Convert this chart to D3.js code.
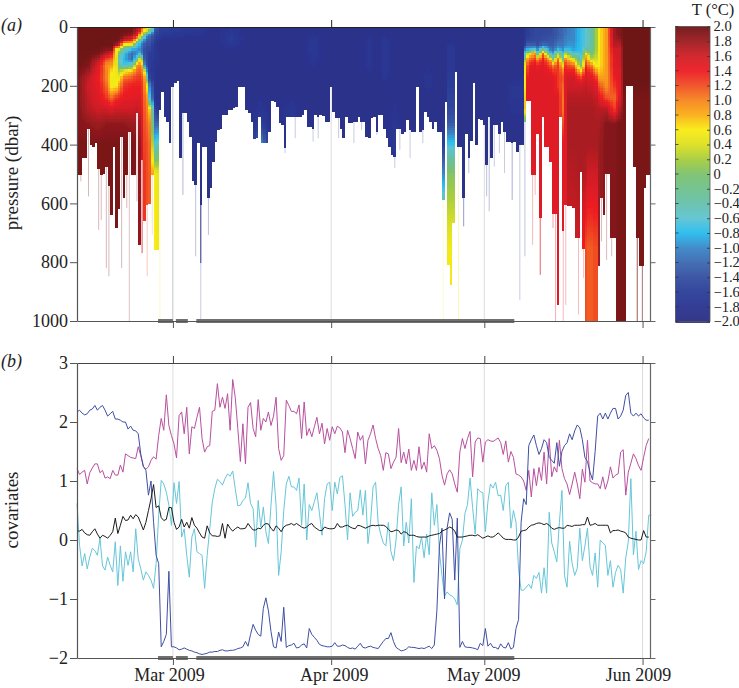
<!DOCTYPE html>
<html><head><meta charset="utf-8">
<script src="https://cdn.jsdelivr.net/npm/d3@7"></script>
<style>html,body{margin:0;padding:0;background:#fff}svg{display:block}text{font-family:"Liberation Serif",serif;fill:#222}</style>
</head><body><script>
const monthTicks=["2009-03-01","2009-04-01","2009-05-01","2009-06-01"];
const monthLabels=["Mar 2009","Apr 2009","May 2009","Jun 2009"];
const pressureTicks=[0,200,400,600,800,1000];
const covariateTicks=[3,2,1,0,-1,-2];
const colorbarTicks=[2,1.8,1.6,1.4,1.2,1,0.8,0.6,0.4,0.2,0,-0.2,-0.4,-0.6,-0.8,-1,-1.2,-1.4,-1.6,-1.8,-2];
const colorStops=[2,1.8,1.6,1.4,1.2,1,0.8,0.6,0.4,0.2,0,-0.2,-0.4,-0.6,-0.8,-1,-1.2,-1.4,-1.6,-1.8,-2];
const colorValues=["#6e1216","#9c1c20","#d01f26","#ed1c24","#f04e23","#f6851f","#fbae17","#f9ec13","#dde021","#a7cd3c","#7cc16e","#6fc18c","#66c0ab","#5fc4d2","#27bcee","#3a87c8","#3c69b1","#354fa1","#2b3e98","#2a3490","#2b2e83"];
const gapStarts=["2009-02-26T02:00Z","2009-03-01T14:00Z","2009-03-05T14:00Z"];
const gapEnds=["2009-03-01T00:00Z","2009-03-03T22:00Z","2009-05-06T21:00Z"];

// one sample every twelve hours
const maxDepth=[503,503,446,446,344,401,407,395,480,503,497,475,542,639,407,684,616,373,582,503,356,503,503,293,741,452,656,605,602,503,758,758,282,222,305,322,395,203,191,182,446,293,293,322,373,520,537,395,605,407,407,582,548,458,390,350,344,299,297,282,282,276,271,200,200,203,282,293,322,381,378,305,395,395,395,356,248,254,271,327,333,412,305,305,305,305,305,305,299,282,339,339,344,299,305,299,302,322,322,203,288,310,310,344,378,305,327,327,324,322,305,322,322,373,376,310,305,356,299,299,344,378,407,435,441,344,344,361,356,316,350,356,356,203,356,350,288,305,322,344,324,356,356,588,254,809,877,667,154,407,407,582,361,446,384,191,401,313,316,333,469,305,446,333,333,361,322,356,390,390,395,390,424,401,401,322,251,251,503,503,361,650,305,407,407,458,633,633,945,305,695,605,610,610,614,718,718,492,752,1000,1000,1000,1000,1000,814,582,639,501,501,718,718,1000,1000,1000,1000,199,199,199,475,718,814,814,548,503,503];
const streakSamples=[1,4,8,9,11,12,17,19,20,23,25,27,29,32,37,41,46,48,48,51,81,85,92,94,102,108,111,117,124,126,130,135,143,149,151,153,160,161,163,165,167,170,173,175,178,179,181,186,187,190,191,196,198,205,207,209,219,221];
const streakDepths=[525,576,690,656,820,848,820,616,1000,593,769,848,707,1000,1000,571,780,803,1000,707,429,378,390,378,378,395,350,367,480,418,446,395,1000,1000,678,497,576,627,475,429,497,588,928,780,741,571,843,684,1000,1000,945,978,854,729,792,780,1000,1000];
const streakAlphas=[.3,.3,.3,.3,.3,.3,.3,.3,.25,.3,.75,.3,.3,.25,.12,.35,.3,.9,.25,.3,.25,.25,.25,.25,.25,.25,.25,.25,.25,.25,.25,.25,.2,.3,.5,.3,.3,.3,.25,.25,.25,.4,.25,.3,.3,.3,.7,.4,.35,.3,.3,.3,.3,.3,.3,.3,.7,.5];

// temperature profiles: a short row keeps its last value to the deepest level
const depthLevels=[0,15,30,45,60,75,90,110,130,150,175,200,240,280,330,400,500,750,1000];
const profileSamples=[0,4,8,11,13,15,16,18,21,23,24,25,26,27,28,30,31,32,34,40,48,53,60,66,72,76,84,88,92,97,110,114,117,120,124,128,134,137,140,142,143,144,145,147,148,149,150,167,170,174,175,176,177,179,180,182,185,186,188,190,191,192,194,197,199,200,201,202,203,204,207,210,212,214,224];
const profileTemps=[
[2,2,2,2,2,2,2,2,2,1.95,1.9,1.9,1.9,1.9,1.9,1.95],
[2,2,2,2,2,2,2,1.95,1.9,1.8,1.65,1.6,1.65,1.7,1.85,1.95],
[2,2,2,2,2,2,1.95,1.7,1.5,1.45,1.4,1.45,1.5,1.6,1.8,1.95],
[2,2,2,2,2,1.9,1.7,1.2,.95,1,1,1.1,1.3,1.6,1.85,1.95],
[2,2,2,2,2,1.9,1.5,1.1,.9,.65,.55,.55,1.1,1.55,1.85,1.95],
[2,2,2,2,1.8,.6,.5,.4,.45,.5,.55,.6,1.3,1.6,1.85,1.95],
[2,2,2,1.95,1.6,.5,-.2,-.5,-.3,.2,.55,.9,1.35,1.6,1.85,1.95],
[2,2,1.9,1.6,.6,-.3,-.7,-.8,-.7,.5,1.1,1.3,1.45,1.6,1.85,1.95],
[2,1.95,1.8,1.3,.5,-.8,-1.2,-1.2,-.4,.8,1.2,1.4,1.45,1.6,1.8,1.95],
[1.8,1.7,1.4,.55,-.6,-.9,-1,-.3,.9,1.1,1.3,1.4,1.5,1.65,1.8,1.9],
[1.7,1.5,.7,-.2,-.8,-1,-.8,.5,1,1.15,1.3,1.4,1.5,1.6,1.75,1.85],
[1.3,.9,.4,-.7,-1.1,-1.2,-1.1,.2,.8,1,1.2,1.3,1.35,1.4,1.5,1.6],
[.9,.5,-.4,-1,-1.3,-1.4,-1.4,-1.3,-1,.45,.9,1,1.1,1.15,1.2,1.25,1.3],
[.6,.3,-1,-1.3,-1.4,-1.5,-1.5,-1.5,-1.4,-1,-.3,.55,.9,1,1.1,1.2],
[.5,-.2,-1.2,-1.3,-1.4,-1.5,-1.6,-1.6,-1.6,-1.6,-1.5,-1,-.7,.7,1,1.1,1.15],
[-1.2,-1.4,-1.5,-1.6,-1.7,-1.7,-1.7,-1.75,-1.8,-1.8,-1.8,-1.8,-1.8,-1.5,-1.2,-.6,.55,.6],
[-1.3,-1.5,-1.6,-1.7,-1.8,-1.8,-1.8,-1.8,-1.8,-1.85,-1.85,-1.85,-1.85,-1.7,-1.2,-.5,.5,.55],
[-1.6,-1.6,-1.7,-1.8,-1.85,-1.85,-1.9,-1.9,-1.9,-1.9,-1.9,-1.9,-1.9,-1.9,-1.9,-1,.5,.55],
[-1.6,-1.65,-1.7,-1.85,-1.9],
[-1.65,-1.7,-1.75,-1.9],
[-1.75,-1.75,-1.8,-1.9],
[-1.9],
[-1.85,-1.7,-1.65,-1.65,-1.7,-1.85,-1.9],
[-1.9],
[-1.9,-1.9,-1.9,-1.9,-1.9,-1.9,-1.9,-1.9,-1.9,-1.9,-1.9,-1.9,-1.85,-1.75,-1.6,-1,-1.9],
[-1.9],
[-1.9,-1.9,-1.9,-1.9,-1.9,-1.9,-1.9,-1.9,-1.9,-1.9,-1.9,-1.9,-1.85,-1.75,-1.75,-1.9],
[-1.9],
[-1.9,-1.9,-1.8,-1.7,-1.7,-1.7,-1.7,-1.75,-1.8,-1.85,-1.9],
[-1.9],
[-1.9],
[-1.9,-1.9,-1.85,-1.75,-1.75,-1.75,-1.75,-1.75,-1.75,-1.8,-1.9],
[-1.9],
[-1.9,-1.9,-1.85,-1.7,-1.7,-1.7,-1.7,-1.7,-1.7,-1.7,-1.75,-1.9],
[-1.9,-1.9,-1.9,-1.9,-1.9,-1.9,-1.9,-1.9,-1.9,-1.9,-1.9,-1.9,-1.85,-1.8,-1.75,-1.7,-1.9],
[-1.9],
[-1.9],
[-1.9,-1.9,-1.9,-1.9,-1.9,-1.9,-1.9,-1.9,-1.85,-1.8,-1.75,-1.75,-1.9],
[-1.9],
[-1.9],
[-1.9,-1.9,-1.9,-1.9,-1.9,-1.9,-1.9,-1.9,-1.9,-1.9,-1.9,-1.9,-1.9,-1.85,-1.8,-1.6,-1,.5,.55],
[-1.9,-1.9,-1.9,-1.9,-1.9,-1.9,-1.9,-1.9,-1.9,-1.9,-1.9,-1.9,-1.9,-1.85,-1.8,-1.6,-1,.5,.55],
[-1.9,-1.9,-1.9,-1.85,-1.8,-1.7,-1.7,-1.7,-1.7,-1.7,-1.65,-1.6,-1.55,-1.5,-1.3,-.7,.05,.55],
[-1.9,-1.9,-1.9,-1.85,-1.8,-1.7,-1.7,-1.7,-1.7,-1.7,-1.65,-1.6,-1.55,-1.5,-1.3,-.7,.05,.55],
[-1.9],
[-1.9,-1.9,-1.9,-1.9,-1.9,-1.9,-1.9,-1.9,-1.9,-1.9,-1.9,-1.9,-1.9,-1.9,-1.9,-1.8,-.5,.55],
[-1.9],
[-1.9],
[-1.9,-1.9,-1.9,-1.9,-1.9,-1.9,-1.9,-1.9,-1.9,-1.9,-1.85,-1.75,-1.75,-1.8,-1.85,-1.9],
[-1.9,-1.9,-1.9,-1.9,-1.9,-1.9,-1.9,-1.9,-1.9,-1.85,-1.8,-1.75,-1.75,-1.8,-1.85,-1.9],
[-1.7,-1.7,-1.7,-1.7,-1.6,-1.1,-.6,.1,.5,.55,.6,.6,.7,.75,-.4,-1.7],
[-1.6,-1.6,-1.6,-1.5,-1.3,-.9,.3,.9,1.2,1.3,1.4,1.5],
[-1.55,-1.55,-1.55,-1.5,-1.3,-.8,.6,1.1,1.4,1.5],
[-1.5,-1.5,-1.5,-1.45,-1.3,-.7,.9,1.3,1.5],
[-1.5,-1.5,-1.5,-1.45,-1.4,-1,-.4,1,1.4,1.5],
[-1.5,-1.5,-1.45,-1.4,-1.2,-.3,1.1,1.4,1.5],
[-1.45,-1.45,-1.4,-1.35,-1.3,-1.1,-.7,.8,1.2,1.4,1.5],
[-1.4,-1.4,-1.4,-1.35,-1.3,-1.2,-.9,-.1,1,1.3,1.5],
[-1.3,-1.3,-1.3,-1.2,-1.1,-.8,.2,1.1,1.3,1.3,1.3,1.3,1.5],
[-1.2,-1.2,-1.2,-1.15,-1.1,-1,-.7,-.2,.6,1,1.2,1.1,1.05,1.05,1.2,1.5],
[-1.15,-1.15,-1.1,-1.05,-1,-.8,.2,1,1.3,1.4,1.5],
[-1.05,-1.05,-1.05,-1,-.95,-.8,-.1,.8,1.2,1.4,1.6,1.6,1.7,1.75,1.75,1.75,1.7,1.6],
[-1,-1,-1,-1,-.95,-.9,-.6,.5,1.1,1.4,1.6,1.6,1.7,1.75,1.75,1.75,1.7,1.6],
[-.75,-.75,-.75,-.75,-.75,-.75,-.7,-.5,-.1,.7,1.3,1.6,1.7,1.75,1.75,1.75,1.75,1.6],
[-.6,-.6,-.6,-.6,-.6,-.4,.6,1,1.3,1.5,1.6,1.65,1.7,1.75,1.75,1.75,1.7,1.2],
[-.5,-.5,-.5,-.5,-.45,-.35,.2,.7,1.1,1.35,1.5,1.6,1.7,1.75,1.75,1.75,1.6,1.15],
[-.35,-.35,-.35,-.35,-.35,-.3,-.1,.3,1,1.3,1.5,1.6,1.7,1.75,1.75,1.75,1.6,1.15],
[-.05,-.05,-.05,-.05,-.05,0,.1,.35,.7,1.1,1.4,1.55,1.65,1.75,1.75,1.75,1.6,1.2],
[.2,.2,.2,.2,.2,.2,.25,.35,.55,.9,1.3,1.5,1.65,1.7,1.75,1.75,1.6,1.2],
[.6,.6,.6,.6,.6,.6,.6,.6,.6,.7,.9,1.2,1.5,1.7,1.75,1.8],
[.9,.9,.9,.9,.9,.9,.9,.9,.9,.9,.9,.95,1.2,1.7,1.9],
[1.8,1.8,1.8,1.75,1.7,1.6,1.55,1.5,1.5,1.45,1.4,1.3,1.1,1.3,1.9],
[1.9,1.9,1.9,1.8,1.7,1.6,1.6,1.6,1.55,1.5,1.5,1.45,1.5,1.7,1.95],
[2,2,2,2,2,2,2,2,2,2,2,2,1.95],
[2,2,2,2,2,2,2,2,2,2,2,2,1.95]
];

const blueSeries=[2.17,2.2,2.15,2.12,2.14,2.2,2.22,2.28,2.2,2.25,2.28,2.2,2.1,2.14,2.18,2.05,2.05,2.03,2,2,1.88,1.93,1.86,1.85,1.8,1.45,1.25,1.18,.76,1,.3,-.26,-.4,-1.81,-1.72,-1.6,-.53,-1.81,-1.81,-1.83,-1.86,-1.85,-1.83,-1.85,-1.87,-1.88,-1.9,-1.91,-1.93,-1.94,-1.93,-1.92,-1.9,-1.9,-1.89,-1.89,-1.87,-1.86,-1.88,-1.88,-1.87,-1.87,-1.86,-1.84,-1.83,-1.81,-1.72,-1.8,-1.6,-1.43,-1.53,-1.6,-1.63,-1.16,-.98,-1.2,-1.55,-1.81,-1.83,-1.56,-1.72,-1.14,-1.82,-1.79,-1.78,-1.75,-1.83,-1.82,-1.78,-1.76,-1.83,-1.5,-1.6,-1.65,-1.7,-1.77,-1.79,-1.8,-1.81,-1.81,-1.8,-1.74,-1.8,-1.8,-1.78,-1.79,-1.82,-1.84,-1.83,-1.85,-1.8,-1.75,-1.82,-1.83,-1.81,-1.8,-1.82,-1.83,-1.84,-1.78,-1.72,-1.67,-1.67,-1.57,-1.72,-1.82,-1.85,-1.88,-1.87,-1.85,-1.81,-1.82,-1.82,-1.83,-1.84,-1.83,-1.84,-1.82,-1.8,-1.84,-1.78,-1.2,-.1,.2,-1,.2,.46,.35,-.68,.37,-1.82,-1.72,-1.81,-1.82,-1.82,-1.83,-1.84,-1.86,-1.75,-1.79,-1.5,-1.8,-1.75,-1.82,-1.82,-1.85,-1.76,-1.82,-1.83,-1.74,-1.85,-1.82,-1.5,-1.35,.3,.7,.6,1.6,1.7,1.78,1.6,1.45,1.55,1.7,1.65,1.4,1.35,1.3,1.65,1.25,1.5,1.6,1.65,1.8,1.7,1.85,1.95,1.9,1.7,1.4,1.33,1.15,1.02,1.5,2.1,2.15,2.05,2.15,2.05,2.15,2.23,2.23,2.05,2.1,2.2,2.45,2.5,2.15,2.1,2.15,2.1,2.14,2.07,2.03,2.03];
const magentaSeries=[1.21,1.11,1.15,1.18,.95,1.14,1.22,1.29,1.29,1.14,1.18,1.05,1.07,1.04,1.18,1.1,1.1,1.27,1.15,1.46,1.43,1.4,1.39,1.38,1.58,1.43,1.24,1.2,1.24,1.35,1.41,1.37,1.77,2.06,1.86,2.46,1.94,1.77,1.63,1.39,2.11,2.17,1.8,2.25,1.46,1.92,1.89,2.08,2.25,1.72,1.49,1.58,1.6,2.18,2.2,2.65,2.25,2.42,2.23,2.48,1.86,2.72,2.42,1.89,1.33,1.97,1.29,2.25,2.33,1.89,1.75,2.38,1.86,2.06,2,2.17,1.94,2.1,2.42,1.55,1.35,1.43,2.37,2.28,2.18,2.18,2.14,2.29,1.72,2.34,1.77,1.89,1.75,1.92,2.08,1.8,1.98,1.63,1.89,1.69,1.92,1.8,1.93,1.9,1.83,1.48,1.86,1.72,1.55,1.38,1.83,1.69,1.77,1.29,1.69,1.8,1.95,1.72,1.55,1.43,1.18,1.48,1.46,1.21,1.32,1.4,1.89,1.31,1.49,1.29,1.54,1.18,1.35,1.18,1.58,1.2,1.32,1.15,1.8,1.55,1.6,1.52,1.38,1.1,.93,1.12,1.19,1.12,.95,.81,1.49,1.72,1.55,1.72,1.84,1.07,1.66,1.73,1.72,1.32,1.66,1.7,1.68,1.67,1.7,1.73,1.65,1.45,1.68,1.32,1.5,1.4,1.12,1.1,1.07,1,.84,1.18,.73,1.21,.92,1.23,1.01,1.49,.95,1.72,1.07,1.24,1.15,1.69,1.21,1.04,.95,.77,.95,1.15,.95,.7,1.2,.98,1.69,1,.97,.95,.95,.87,1.07,.86,1,1.24,1.05,1.1,1.12,1.49,1.53,.76,1.15,1.3,1.46,1.38,1.26,1.18,1.4,1.6,1.72];
const cyanSeries=[.62,-.09,-.44,-.23,-.49,-.29,-.14,-.18,-.26,.03,-.44,-.51,-.29,-.43,-.54,-.03,-.77,-.1,-.7,-.2,-.43,-.2,-.54,.19,-.32,-.49,-.68,-.54,-.6,-.68,-.82,-.4,.42,1.01,.95,.81,.59,.25,.97,.62,.99,.05,.19,-.26,-.63,.05,.19,-.2,-.23,-.26,-.82,-.26,.19,.64,.87,1.03,.99,.93,1.04,1.12,1.08,1.17,.87,.58,.59,.67,.71,.97,.62,.53,-.12,.67,.22,.56,.14,-.06,.59,1.16,.59,-.6,-.2,.5,.95,1.08,.9,.9,.84,1.05,.25,.95,0,.6,.5,.65,.8,.45,.08,.7,.95,.98,.5,.98,.78,1.06,1.09,.6,0,.8,.4,.47,.5,.85,.42,.84,-.06,.3,.9,.98,.28,.1,-.05,-.1,.3,-.2,-.35,0,.6,.9,-.1,.3,-.05,.7,-.72,-.1,-.15,.05,-.3,.1,-.25,.8,.25,.6,-.2,-.6,-.95,-.88,-.93,-.95,-1,-1.1,-.15,0,.45,.6,1.05,.55,.1,.87,.82,.8,.14,.65,.95,.88,.98,.75,.76,.5,.92,.98,.2,.5,.3,-.5,-.85,-.85,-.8,-.75,-.82,-.6,-.65,-.55,-.9,-.47,-.9,.47,-.05,-.2,-.37,.3,.84,-.6,-.8,-.02,-.4,-.6,-.48,.2,-.35,-.1,.2,-.45,-.6,-.22,-.8,0,-.05,-.09,-.6,-.35,-.8,-.55,-.43,-.5,-.9,-.3,-.03,1.04,-.25,.15,-.5,-.35,-.4,-.2,.42,.42];
const blackSeries=[.16,.15,.18,.12,.09,.08,.14,.19,.1,.03,.08,.06,.03,.08,.14,.37,.11,.25,.4,.33,.34,.42,.36,.43,.39,.28,.17,.3,.5,.7,.94,.55,.58,.38,.33,.35,.55,.55,.3,.18,.22,.35,.22,.3,.2,.38,.25,.2,.12,.05,.03,.24,.12,.07,.07,.06,.07,.28,.03,.27,.2,.15,.19,.22,.19,.19,.2,.28,.22,.17,.17,.2,.19,.25,.28,.27,.2,.15,.24,.2,.14,.22,.25,.26,.28,.25,.28,.25,.22,.2,.22,.26,.28,.22,.19,.16,.16,.22,.2,.19,.19,.2,.28,.22,.22,.24,.25,.22,.2,.19,.25,.24,.22,.2,.22,.24,.25,.24,.25,.25,.25,.23,.18,.14,.15,.17,.16,.1,.14,.13,.08,.08,.08,.06,.05,.05,.05,.05,.07,.08,.09,.1,.11,.15,.17,.19,.22,.2,.15,.05,.05,.05,.06,.07,.08,.08,.07,.09,.06,.03,.05,.07,.05,.05,.08,.12,.08,.03,.01,.01,.01,0,0,.05,.15,.16,.17,.22,.25,.26,.28,.29,.28,.26,.28,.25,.2,.18,.2,.21,.2,.2,.25,.24,.23,.25,.25,.25,.26,.26,.39,.25,.26,.28,.25,.25,.25,.25,.25,.12,.16,.16,.17,.15,.14,.12,.05,.03,.02,.01,0,0,.16,.05,.05];

const W=739,H=688;
const svg=d3.select("body").append("svg").attr("width",W).attr("height",H);
const L=77,R=650,T1=27,B1=321,T2=363,B2=658;
const x=d3.scaleUtc().domain([new Date("2009-02-10T05:00Z"),new Date("2009-06-02T11:00Z")]).range([L,R]);
const y1=d3.scaleLinear().domain([0,1000]).range([T1,B1]);
const y2=d3.scaleLinear().domain([-2,3]).range([B2,T2]);
const color=d3.scaleLinear().domain(colorStops).range(colorValues).clamp(true);
const start=x.domain()[0].getTime();
const sampleDate=i=>new Date(start+i*43200000);

function rowAt(r,k){return r[Math.min(k,r.length-1)];}
function tempAt(s,d){
  let a=d3.bisectRight(profileSamples,s)-1; a=Math.max(0,Math.min(profileSamples.length-2,a));
  const ft=Math.max(0,Math.min(1,(s-profileSamples[a])/(profileSamples[a+1]-profileSamples[a])));
  let k=d3.bisectRight(depthLevels,d)-1; k=Math.max(0,Math.min(depthLevels.length-2,k));
  const fd=(d-depthLevels[k])/(depthLevels[k+1]-depthLevels[k]);
  const c=r=>rowAt(r,k)*(1-fd)+rowAt(r,k+1)*fd;
  return c(profileTemps[a])*(1-ft)+c(profileTemps[a+1])*ft;
}
const defs=svg.append("defs");
defs.append("filter").attr("id","soft").attr("x","-2%").attr("y","-2%").attr("width","104%").attr("height","104%")
  .append("feGaussianBlur").attr("stdDeviation",0.55);
defs.append("clipPath").attr("id","clipTop").append("rect").attr("x",L).attr("y",T1).attr("width",R-L).attr("height",B1-T1);

const months=monthTicks.map(d=>new Date(d+"T00:00Z"));
// grid
[[T1,B1],[T2,B2]].forEach(([a,b])=>{
  svg.append("g").selectAll("line").data(months).join("line")
    .attr("x1",d=>x(d)).attr("x2",d=>x(d)).attr("y1",a).attr("y2",b)
    .attr("stroke","#dcdcdc").attr("stroke-width",1);
});

// streaks
const topPanel=svg.append("g").attr("clip-path","url(#clipTop)");
topPanel.append("g").selectAll("line").data(streakSamples).join("line")
  .attr("x1",d=>x(sampleDate(d+.5))).attr("x2",d=>x(sampleDate(d+.5)))
  .attr("y1",T1).attr("y2",(d,i)=>y1(streakDepths[i]))
  .attr("stroke",(d,i)=>color(tempAt(d,streakDepths[i]-5)))
  .attr("stroke-opacity",(d,i)=>streakAlphas[i]).attr("stroke-width",1);

// cells
const step=8, cells=[];
maxDepth.forEach((m,s)=>{for(let d=0;d<m;d+=step){cells.push({s,d,h:Math.min(step,m-d)});}});
topPanel.append("g").attr("filter","url(#soft)").attr("shape-rendering","crispEdges").selectAll("rect").data(cells).join("rect")
  .attr("x",c=>x(sampleDate(c.s)))
  .attr("y",c=>y1(c.d))
  .attr("width",c=>x(sampleDate(c.s+1))-x(sampleDate(c.s))+(c.d+c.h<maxDepth[c.s+1]?.7:0))
  .attr("height",c=>y1(c.d+c.h)-y1(c.d)+(c.h<step?0:.7))
  .attr("fill",c=>color(tempAt(c.s,c.d+c.h/2)));

// lines
const line=d3.line().x((d,i)=>x(sampleDate(i))).y(d=>y2(d));
[[cyanSeries,"#66c6d8"],[magentaSeries,"#b8509f"],[blueSeries,"#3f4fa3"],[blackSeries,"#1c1c1c"]].forEach(([s,c])=>{
  svg.append("path").datum(s).attr("d",line).attr("fill","none").attr("stroke",c).attr("stroke-width",1);
});

// gap bars
[B1,B2].forEach(b=>{
  svg.append("g").selectAll("rect").data(gapStarts).join("rect")
    .attr("x",d=>x(new Date(d))).attr("width",(d,i)=>x(new Date(gapEnds[i]))-x(new Date(d)))
    .attr("y",b-2).attr("height",4).attr("fill","#707070");
});

// axes
const tl=7;
function axisStyle(g,col){g.selectAll(".domain").attr("stroke",col).attr("stroke-width",1.2);g.selectAll(".tick line").attr("stroke",col).attr("stroke-width",1);g.selectAll("text").style("font-size","18px").style("font-family",'"Liberation Serif",serif').attr("fill","#222");}
const fmtMinus=d=>String(d).replace("-","\u2212");
svg.append("g").attr("transform",`translate(${L},0)`).call(d3.axisLeft(y1).tickValues(pressureTicks).tickFormat(String).tickSize(tl).tickSizeOuter(0).tickPadding(2)).call(axisStyle,"#555");
svg.append("g").attr("transform",`translate(${R},0)`).call(d3.axisRight(y1).tickValues(pressureTicks).tickSize(5.5).tickSizeOuter(0).tickFormat("")).call(axisStyle,"#666");
svg.append("g").attr("transform",`translate(${L},0)`).call(d3.axisLeft(y2).tickValues(covariateTicks).tickFormat(fmtMinus).tickSize(tl).tickSizeOuter(0).tickPadding(2)).call(axisStyle,"#555");
svg.append("g").attr("transform",`translate(${R},0)`).call(d3.axisRight(y2).tickValues(covariateTicks).tickSize(5.5).tickSizeOuter(0).tickFormat("")).call(axisStyle,"#666");
svg.append("g").attr("transform",`translate(0,${T1})`).call(d3.axisTop(x).tickValues(months).tickSize(tl).tickSizeOuter(0).tickFormat("")).call(axisStyle,"#222");
svg.append("g").attr("transform",`translate(0,${B1})`).call(d3.axisBottom(x).tickValues(months).tickSize(tl).tickSizeOuter(0).tickFormat("")).call(axisStyle,"#555");
svg.append("g").attr("transform",`translate(0,${T2})`).call(d3.axisTop(x).tickValues(months).tickSize(tl).tickSizeOuter(0).tickFormat("")).call(axisStyle,"#444");
const labelShift=[-4,2.5,-1,-4.5];
svg.append("g").attr("transform",`translate(0,${B2})`).call(d3.axisBottom(x).tickValues(months).tickSize(tl).tickSizeOuter(0).tickFormat((d,i)=>monthLabels[i]).tickPadding(3)).call(axisStyle,"#555")
  .selectAll("text").attr("dx",(d,i)=>labelShift[i]);

// titles
svg.append("text").attr("transform","translate(18,173) rotate(-90)").attr("text-anchor","middle").style("font-size","19px").text("pressure (dbar)");
svg.append("text").attr("transform","translate(18,510) rotate(-90)").attr("text-anchor","middle").style("font-size","19px").text("covariates");
svg.append("text").attr("x",1).attr("y",31).style("font-size","18px").style("font-style","italic").text("(a)");
svg.append("text").attr("x",1).attr("y",367).style("font-size","18px").style("font-style","italic").text("(b)");
svg.append("text").attr("x",713).attr("y",14.8).attr("text-anchor","middle").style("font-size","16.5px").text("T (°C)");

// colour bar
const cbL=675.5,cbR=710;
const yc=d3.scaleLinear().domain([-2,2]).range([321.5,26.5]);
svg.append("g").selectAll("rect").data(d3.range(0,296)).join("rect")
  .attr("x",cbL).attr("width",cbR-cbL).attr("y",d=>26.5+d).attr("height",1.4)
  .attr("fill",d=>color(yc.invert(26.5+d+.5)));
svg.append("rect").attr("x",cbL).attr("y",26.5).attr("width",cbR-cbL).attr("height",295).attr("fill","none").attr("stroke","#555").attr("stroke-width",.8);
const cbAxis=svg.append("g").attr("transform",`translate(${cbR},0)`).call(d3.axisLeft(yc).tickValues(colorbarTicks).tickSize(3).tickSizeOuter(0).tickFormat(""));
cbAxis.selectAll(".domain").remove();cbAxis.selectAll("line").attr("stroke","#333").attr("stroke-width",.8);
svg.append("g").selectAll("line").data(colorbarTicks).join("line").attr("x1",cbL).attr("x2",cbL+3).attr("y1",d=>yc(d)).attr("y2",d=>yc(d)).attr("stroke","#333").attr("stroke-width",.8);
svg.append("g").selectAll("text").data(colorbarTicks).join("text")
  .attr("x",cbR+3.5).attr("y",d=>yc(d)).attr("dy","0.34em").style("font-size","14.5px")
  .text(d=>d===0?"0":fmtMinus(d.toFixed(1)));
</script></body></html>
